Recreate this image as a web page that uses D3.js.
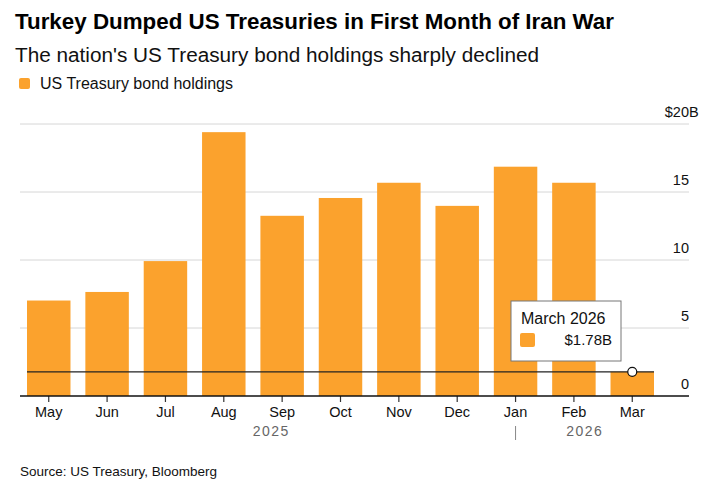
<!DOCTYPE html>
<html>
<head>
<meta charset="utf-8">
<script src="https://cdn.jsdelivr.net/npm/d3@7"></script>
<style>
  html, body { margin: 0; padding: 0; background: #fff; }
  svg text { font-family: "Liberation Sans", Arial, sans-serif; }
</style>
</head>
<body>
<div id="chart"></div>
<script>
// Data
const months = ['May', 'Jun', 'Jul', 'Aug', 'Sep', 'Oct', 'Nov', 'Dec', 'Jan', 'Feb', 'Mar'];
const years = ['2025', '2025', '2025', '2025', '2025', '2025', '2025', '2025', '2026', '2026', '2026'];
const holdings = [7.02, 7.65, 9.92, 19.4, 13.25, 14.56, 15.68, 13.98, 16.86, 15.68, 1.78];
const yTicks = [0, 5, 10, 15, 20];

const width = 724, height = 502;
const margin = { left: 20, right: 35, top: 124, bottom: 106 };
const orange = '#fba22d';

const data = months.map((m, i) => ({ month: m, year: years[i], value: holdings[i] }));

const svg = d3.select('#chart').append('svg')
    .attr('width', width)
    .attr('height', height);

// Titles
svg.append('text')
    .attr('x', 15).attr('y', 29)
    .style('font-size', '22px').style('font-weight', 'bold').style('fill', '#000')
    .attr('textLength', 599).attr('lengthAdjust', 'spacingAndGlyphs')
    .text('Turkey Dumped US Treasuries in First Month of Iran War');

svg.append('text')
    .attr('x', 15).attr('y', 62)
    .style('font-size', '20px').style('fill', '#111')
    .attr('textLength', 524).attr('lengthAdjust', 'spacingAndGlyphs')
    .text("The nation's US Treasury bond holdings sharply declined");

// Legend
svg.append('rect')
    .attr('x', 19).attr('y', 78).attr('width', 11).attr('height', 11).attr('rx', 2)
    .attr('fill', orange);
svg.append('text')
    .attr('x', 40).attr('y', 89)
    .style('font-size', '16px').style('fill', '#111')
    .text('US Treasury bond holdings');

// Scales
const plotRight = width - margin.right; // 689
const x = d3.scaleBand()
    .domain(months)
    .range([margin.left, 661])
    .paddingInner(0.255)
    .paddingOuter(0.12);

const y = d3.scaleLinear()
    .domain([0, 20])
    .range([height - margin.bottom, margin.top]);

const g = svg.append('g');

// Grid lines
g.selectAll('.grid')
    .data(yTicks.filter(d => d > 0))
    .enter().append('line')
    .attr('class', 'grid')
    .attr('x1', margin.left).attr('x2', plotRight)
    .attr('y1', d => y(d)).attr('y2', d => y(d))
    .attr('stroke', '#d6d6d6').attr('stroke-width', 1);

// Y labels (numbers right-aligned, top one gets $ and B)
const yLab = g.selectAll('.ylab')
    .data(yTicks)
    .enter().append('g')
    .attr('class', 'ylab')
    .attr('transform', d => `translate(${plotRight},${y(d) - 7})`);
yLab.append('text')
    .attr('text-anchor', 'end')
    .style('font-size', '14.5px').style('fill', '#111')
    .text(d => d === 20 ? '$' + d : d);
yLab.filter(d => d === 20).append('text')
    .attr('text-anchor', 'start')
    .style('font-size', '14.5px').style('fill', '#111')
    .text('B');

// Bars
g.selectAll('.bar')
    .data(data)
    .enter().append('rect')
    .attr('class', 'bar')
    .attr('x', d => x(d.month))
    .attr('width', x.bandwidth())
    .attr('y', d => y(d.value))
    .attr('height', d => y(0) - y(d.value))
    .attr('fill', orange);

// X axis
const xAxis = g.append('g')
    .attr('transform', `translate(0,${y(0)})`)
    .call(d3.axisBottom(x).tickSize(6).tickPadding(5).tickSizeOuter(0));
xAxis.select('.domain').remove();
xAxis.selectAll('.tick line').attr('stroke', '#333').attr('stroke-width', 1.2);
xAxis.selectAll('.tick text')
    .style('font-size', '14.5px').style('fill', '#111')
    .style('font-family', '"Liberation Sans", Arial, sans-serif');
g.append('line')
    .attr('x1', margin.left).attr('x2', plotRight)
    .attr('y1', y(0)).attr('y2', y(0))
    .attr('stroke', '#111').attr('stroke-width', 1.5);

// Year labels and separator
const first = data[0], last = data[data.length - 1];
const janCenter = x('Jan') + x.bandwidth() / 2;
const yearLabels = [
    { text: '2025', cx: (x(first.month) + janCenter) / 2 },
    { text: '2026', cx: (janCenter + x(last.month) + x.bandwidth()) / 2 }
];
g.selectAll('.year')
    .data(yearLabels)
    .enter().append('text')
    .attr('class', 'year')
    .attr('x', d => d.cx).attr('y', y(0) + 40)
    .attr('text-anchor', 'middle')
    .style('font-size', '14px').style('fill', '#666').style('letter-spacing', '1.5px')
    .text(d => d.text);
g.append('line')
    .attr('x1', janCenter).attr('x2', janCenter)
    .attr('y1', y(0) + 30).attr('y2', y(0) + 44)
    .attr('stroke', '#888').attr('stroke-width', 1);

// Reference line at latest value
g.append('line')
    .attr('x1', x(first.month)).attr('x2', x(last.month) + x.bandwidth())
    .attr('y1', y(last.value)).attr('y2', y(last.value))
    .attr('stroke', '#222').attr('stroke-width', 1.3);
g.append('circle')
    .attr('cx', x(last.month) + x.bandwidth() / 2)
    .attr('cy', y(last.value))
    .attr('r', 4.5)
    .attr('fill', '#fff').attr('stroke', '#111').attr('stroke-width', 1.2);

// Tooltip box
const tip = g.append('g').attr('transform', 'translate(511,301)');
tip.append('rect')
    .attr('width', 110).attr('height', 60)
    .attr('fill', '#fff').attr('stroke', '#777').attr('stroke-width', 1);
tip.append('text')
    .attr('x', 10).attr('y', 23)
    .style('font-size', '16px').style('fill', '#111')
    .text('March ' + last.year);
tip.append('rect')
    .attr('x', 9).attr('y', 32).attr('width', 15).attr('height', 14).attr('rx', 2)
    .attr('fill', orange);
tip.append('text')
    .attr('x', 101).attr('y', 44)
    .attr('text-anchor', 'end')
    .style('font-size', '15px').style('fill', '#111')
    .text('$' + last.value.toFixed(2) + 'B');

// Source
svg.append('text')
    .attr('x', 20).attr('y', 476)
    .style('font-size', '13.5px').style('fill', '#111')
    .text('Source: US Treasury, Bloomberg');
</script>
</body>
</html>
